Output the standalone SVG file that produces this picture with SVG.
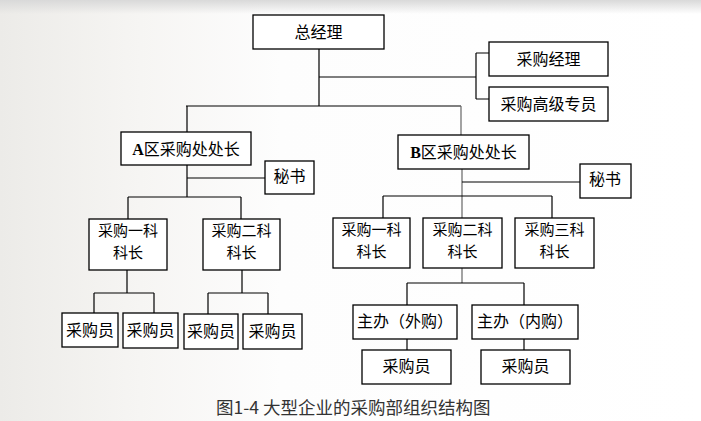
<svg xmlns="http://www.w3.org/2000/svg" width="701" height="421" viewBox="0 0 701 421">
<defs>
<linearGradient id="bg" x1="0" y1="0" x2="1" y2="0">
<stop offset="0" stop-color="#ecebe8"/>
<stop offset="0.2" stop-color="#f6f5f3"/>
<stop offset="0.4" stop-color="#fdfdfd"/>
<stop offset="1" stop-color="#ffffff"/>
</linearGradient>
<linearGradient id="top" x1="0" y1="0" x2="0" y2="1">
<stop offset="0" stop-color="#d9d9d9"/>
<stop offset="1" stop-color="#d9d9d9" stop-opacity="0"/>
</linearGradient>
<style>
.b{fill:#fff;stroke:#000;stroke-width:1.3}
.t{font-family:"Noto Sans CJK SC","Noto Sans",sans-serif;font-size:16px;fill:#000;text-anchor:middle}
.t2{font-size:15px}
.ts{text-anchor:start}
.l{stroke:#000;stroke-width:1.2;fill:none}
.g{stroke:#666;stroke-width:1.2;fill:none}
.lat{font-family:"Liberation Serif",serif;font-weight:bold}
.cap{font-family:"Noto Sans CJK SC","Noto Sans",sans-serif;font-size:17.5px;fill:#333}
</style>
</defs>
<rect x="0" y="0" width="701" height="421" fill="url(#bg)"/>
<rect x="0" y="0" width="701" height="14" fill="url(#top)"/>

<g id="connectors">
<path class="l" d="M319 49V106M319 77H476M476 53V99M476 53H489M476 99H489M186 106H461"/>
<path class="l" d="M187 106V132M187 165V197M187 178H265M128 197H241M128 197V219M241 197V219"/>
<path class="l" d="M127 270V293M94 293H154M94 293V313M154 293V313M242 270V293M208 293H268M208 293V314M268 293V314"/>
<path class="g" d="M461 106V135M462 169V218M462 268V283"/>
<path class="l" d="M462 182H580M383 196H552M383 196V218M552 196V218"/>
<path class="l" d="M407 283H524M407 283V305M524 283V305M407 339V350M524 339V350"/>
</g>

<g id="n-zongjingli"><rect class="b" x="253" y="15" width="131" height="34"/><text class="t" x="318.5" y="38">总经理</text></g>
<g id="n-caigoujingli"><rect class="b" x="489" y="42" width="119" height="34"/><text class="t" x="548.5" y="65">采购经理</text></g>
<g id="n-gaojizhuanyuan"><rect class="b" x="489" y="87" width="119" height="34"/><text class="t" x="548.5" y="110">采购高级专员</text></g>

<g id="n-a-chuzhang"><rect class="b" x="121" y="132" width="130" height="33"/><text class="t" x="186" y="155"><tspan class="lat">A</tspan>区采购处处长</text></g>
<g id="n-a-mishu"><rect class="b" x="265" y="161" width="49" height="33"/><text class="t" x="289.5" y="182">秘书</text></g>
<g id="n-a-yike"><rect class="b" x="89" y="219" width="78" height="51"/><text class="t t2"><tspan x="128" y="236">采购一科</tspan><tspan x="128" y="258">科长</tspan></text></g>
<g id="n-a-erke"><rect class="b" x="203" y="219" width="77" height="51"/><text class="t t2"><tspan x="241.5" y="236">采购二科</tspan><tspan x="241.5" y="258">科长</tspan></text></g>
<g id="n-a-yuan1"><rect class="b" x="62" y="313" width="56" height="34"/><text class="t" x="90" y="336">采购员</text></g>
<g id="n-a-yuan2"><rect class="b" x="123" y="313" width="55" height="35"/><text class="t" x="150.5" y="336">采购员</text></g>
<g id="n-a-yuan3"><rect class="b" x="184" y="314" width="54" height="35"/><text class="t" x="211" y="337">采购员</text></g>
<g id="n-a-yuan4"><rect class="b" x="243" y="314" width="59" height="35"/><text class="t" x="272.5" y="337">采购员</text></g>

<g id="n-b-chuzhang"><rect class="b" x="398" y="135" width="131" height="34"/><text class="t" x="463.5" y="158"><tspan class="lat">B</tspan>区采购处处长</text></g>
<g id="n-b-mishu"><rect class="b" x="580" y="164" width="51" height="34"/><text class="t" x="605" y="185">秘书</text></g>
<g id="n-b-yike"><rect class="b" x="333" y="218" width="77" height="50"/><text class="t t2"><tspan x="371.5" y="235">采购一科</tspan><tspan x="371.5" y="257">科长</tspan></text></g>
<g id="n-b-erke"><rect class="b" x="423" y="218" width="79" height="50"/><text class="t t2"><tspan x="462.5" y="235">采购二科</tspan><tspan x="462.5" y="257">科长</tspan></text></g>
<g id="n-b-sanke"><rect class="b" x="515" y="218" width="79" height="50"/><text class="t t2"><tspan x="554.5" y="235">采购三科</tspan><tspan x="554.5" y="257">科长</tspan></text></g>
<g id="n-b-waigou"><rect class="b" x="353" y="305" width="104" height="34"/><text class="t ts" x="357" y="327">主办（外购）</text></g>
<g id="n-b-neigou"><rect class="b" x="472" y="305" width="106" height="34"/><text class="t ts" x="477" y="327">主办（内购）</text></g>
<g id="n-b-yuan1"><rect class="b" x="362" y="350" width="89" height="34"/><text class="t" x="406.5" y="372">采购员</text></g>
<g id="n-b-yuan2"><rect class="b" x="481" y="350" width="89" height="34"/><text class="t" x="525.5" y="372">采购员</text></g>

<text class="cap" x="216" y="414">图1-4 大型企业的采购部组织结构图</text>
</svg>
